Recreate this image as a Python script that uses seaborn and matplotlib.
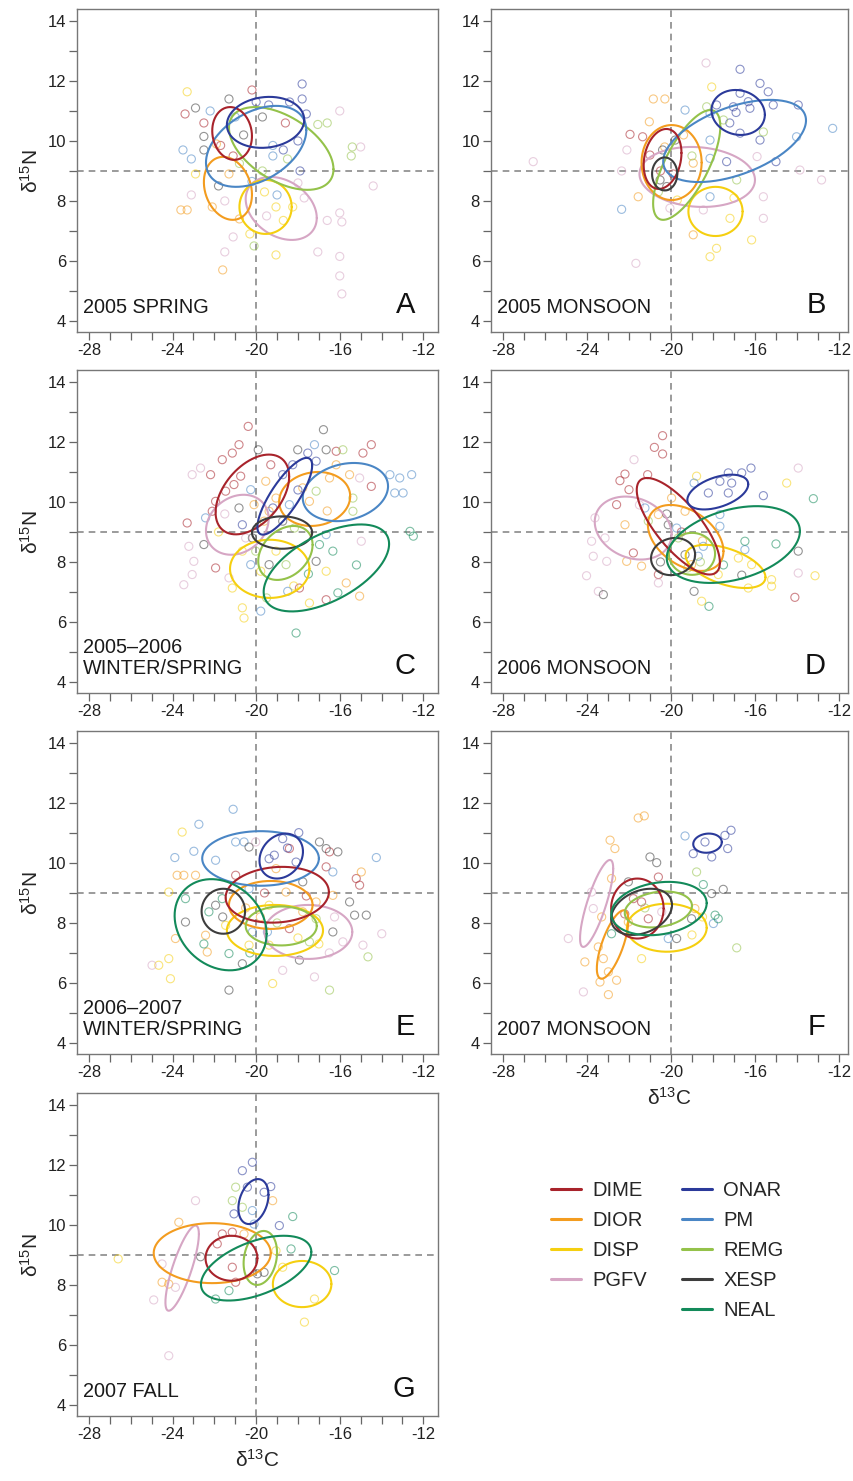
import numpy as np
import pandas as pd
import seaborn as sns
import matplotlib.pyplot as plt
from matplotlib.ticker import MultipleLocator
from matplotlib.lines import Line2D

species = ["DIME", "DIOR", "DISP", "PGFV", "ONAR", "PM", "REMG", "XESP", "NEAL"]
colors = ["#a8232b", "#f39c1f", "#f5cf10", "#d6a6c4", "#2b3a9a", "#4a86c5", "#94c24a", "#3d3d3d", "#138a5a"]
letters = ["A", "B", "C", "D", "E", "F", "G"]
titles = ["2005 SPRING", "2005 MONSOON", "2005\u20132006\nWINTER/SPRING", "2006 MONSOON",
          "2006\u20132007\nWINTER/SPRING", "2007 MONSOON", "2007 FALL"]

# individual samples (d13C, d15N) per species
pts_A = {
    "DIME": [(-23.4, 10.9), (-22.5, 10.6), (-21.7, 9.85), (-21.1, 9.5), (-20.2, 11.7), (-18.6, 10.6)],
    "DIOR": [(-23.6, 7.7), (-23.3, 7.7), (-22.1, 7.8), (-21.6, 5.7), (-21.9, 9.9), (-21.3, 8.9), (-20.8, 7.4)],
    "DISP": [(-23.3, 11.64), (-22.9, 8.9), (-20.3, 6.9), (-19.05, 6.2), (-19.05, 7.8), (-18.7, 7.35), (-18.25, 7.8), (-19.6, 8.3)],
    "PGFV": [(-23.1, 8.2), (-21.5, 8.0), (-21.1, 6.8), (-21.5, 6.3), (-19.5, 7.5), (-17.7, 8.1), (-17.05, 6.3), (-16.6, 7.35),
             (-16.0, 7.6), (-15.9, 7.3), (-16.0, 6.15), (-16.0, 5.5), (-15.9, 4.9), (-14.4, 8.5), (-15.0, 9.8), (-16.0, 11.0), (-18.0, 8.6)],
    "ONAR": [(-17.8, 11.9), (-17.8, 11.4), (-18.7, 9.7), (-18.0, 10.0), (-17.9, 9.0), (-19.4, 11.2), (-18.4, 11.3), (-17.6, 10.9), (-20.0, 11.3)],
    "PM": [(-22.2, 11.0), (-23.5, 9.7), (-23.1, 9.4), (-19.2, 9.5), (-19.2, 9.85), (-20.2, 8.65), (-21.0, 10.8), (-19.0, 8.2)],
    "REMG": [(-17.05, 10.55), (-16.6, 10.6), (-15.4, 9.8), (-15.45, 9.5), (-20.8, 9.25), (-19.7, 9.0), (-20.1, 6.5), (-18.5, 9.4)],
    "XESP": [(-22.9, 11.1), (-21.3, 11.4), (-22.5, 10.15), (-22.5, 9.7), (-19.7, 10.8), (-21.8, 8.5), (-20.6, 10.2)],
}
pts_B = {
    "DIME": [(-21.95, 10.22), (-21.35, 10.14), (-21.0, 9.53), (-20.5, 9.0), (-19.9, 8.9)],
    "DIOR": [(-21.56, 8.14), (-20.84, 11.4), (-20.29, 11.4), (-21.03, 10.64), (-19.4, 10.2), (-18.94, 9.26), (-18.94, 6.87), (-20.3, 9.8)],
    "DISP": [(-18.06, 11.8), (-17.19, 7.42), (-18.14, 6.14), (-16.16, 6.7), (-17.83, 6.42), (-19.7, 8.03), (-17.0, 8.1)],
    "PGFV": [(-26.56, 9.31), (-22.1, 9.7), (-22.35, 9.0), (-21.67, 5.92), (-15.9, 9.48), (-15.6, 8.14), (-15.6, 7.42),
             (-12.83, 8.7), (-13.86, 9.03), (-20.05, 7.76), (-18.46, 7.7), (-18.33, 12.6)],
    "ONAR": [(-17.35, 9.31), (-17.83, 11.2), (-17.03, 11.14), (-16.71, 12.39), (-16.71, 11.59), (-16.71, 10.26), (-16.32, 11.31),
             (-16.24, 11.09), (-15.76, 11.92), (-15.37, 11.64), (-15.13, 11.2), (-15.76, 10.03), (-15.0, 9.31), (-13.94, 11.2),
             (-17.2, 10.6), (-16.9, 10.95)],
    "PM": [(-22.35, 7.72), (-19.33, 11.03), (-18.14, 10.92), (-18.14, 10.03), (-18.14, 9.42), (-14.02, 10.14), (-12.3, 10.42), (-18.14, 8.14)],
    "REMG": [(-18.3, 11.14), (-17.5, 10.7), (-15.6, 10.3), (-16.87, 8.7), (-20.6, 8.3), (-19.0, 9.5)],
    "XESP": [(-20.4, 9.7), (-19.8, 10.03), (-20.52, 8.7), (-20.2, 8.48)],
}
pts_C = {
    "DIME": [(-20.38, 12.52), (-20.82, 11.91), (-21.14, 11.63), (-21.62, 11.41), (-22.18, 10.91), (-21.06, 10.58), (-20.74, 10.86),
             (-21.46, 10.36), (-21.94, 10.02), (-22.1, 9.69), (-23.3, 9.3), (-21.94, 7.8), (-16.17, 11.69), (-14.89, 11.63),
             (-14.49, 11.91), (-14.49, 10.52), (-16.65, 6.74), (-17.93, 7.13), (-19.3, 11.24)],
    "DIOR": [(-19.38, 9.69), (-19.05, 10.13), (-16.17, 11.24), (-16.49, 10.8), (-15.53, 10.91), (-17.45, 10.02), (-17.77, 10.47),
             (-15.69, 7.3), (-15.05, 6.86), (-19.62, 9.36), (-19.54, 10.69), (-20.1, 9.91), (-16.6, 9.7)],
    "DISP": [(-21.14, 7.13), (-20.66, 6.47), (-20.58, 6.13), (-16.65, 7.69), (-17.45, 6.63), (-19.05, 8.36), (-19.78, 7.69),
             (-20.66, 8.36), (-18.2, 7.2), (-21.8, 9.0)],
    "PGFV": [(-23.06, 10.91), (-22.66, 11.13), (-23.22, 8.52), (-22.98, 8.02), (-23.46, 7.24), (-23.06, 7.58), (-21.3, 7.47),
             (-14.97, 8.69), (-15.05, 10.8), (-21.5, 9.6), (-20.5, 8.8)],
    "ONAR": [(-20.66, 9.24), (-18.73, 10.91), (-17.53, 11.63), (-17.13, 11.36), (-18.25, 11.24), (-19.2, 9.8), (-18.0, 10.4)],
    "PM": [(-22.42, 9.47), (-19.78, 6.36), (-20.26, 10.41), (-17.21, 11.91), (-13.6, 10.91), (-13.13, 10.8), (-12.56, 10.91),
           (-13.37, 10.3), (-12.97, 10.3), (-16.65, 8.91), (-18.49, 7.02), (-20.26, 7.91), (-18.41, 9.91)],
    "REMG": [(-15.85, 11.74), (-15.37, 10.13), (-15.37, 9.69), (-17.13, 10.36), (-18.17, 9.13), (-18.57, 7.91), (-20.02, 8.36), (-19.5, 6.8)],
    "XESP": [(-22.5, 8.58), (-19.9, 11.74), (-20.82, 9.8), (-20.18, 8.8), (-18.01, 11.74), (-16.65, 11.74), (-17.13, 8.02),
             (-19.38, 7.91), (-18.73, 9.36), (-16.78, 12.41)],
    "NEAL": [(-12.64, 9.02), (-12.48, 8.86), (-16.97, 8.58), (-16.33, 8.36), (-16.09, 6.97), (-18.09, 5.63), (-17.5, 7.6), (-15.2, 7.9)],
}
pts_D = {
    "DIME": [(-20.4, 12.21), (-20.79, 11.82), (-20.4, 11.6), (-22.19, 10.93), (-22.43, 10.71), (-22.0, 10.41), (-21.11, 10.91),
             (-22.59, 9.91), (-21.79, 8.3), (-20.6, 7.58), (-14.1, 6.82), (-19.5, 9.0)],
    "DIOR": [(-22.11, 8.02), (-21.4, 7.86), (-19.02, 7.91), (-19.33, 9.69), (-19.97, 10.13), (-20.6, 9.58), (-22.19, 9.24), (-18.5, 8.7)],
    "DISP": [(-18.78, 10.86), (-14.49, 10.63), (-16.79, 8.13), (-16.16, 7.91), (-13.14, 7.54), (-15.21, 7.41), (-15.21, 7.19),
             (-16.32, 7.13), (-18.54, 6.69), (-17.75, 7.58)],
    "PGFV": [(-21.76, 11.41), (-23.62, 9.47), (-23.14, 8.8), (-23.78, 8.69), (-23.7, 8.19), (-24.02, 7.54), (-23.06, 8.02),
             (-23.46, 7.02), (-20.6, 7.3), (-13.94, 11.13), (-13.94, 7.63), (-21.5, 9.9)],
    "ONAR": [(-18.22, 10.3), (-17.67, 10.69), (-17.27, 10.97), (-17.11, 10.63), (-17.27, 10.3), (-16.63, 10.97), (-16.19, 11.13), (-15.6, 10.21)],
    "PM": [(-21.24, 9.8), (-19.73, 9.13), (-18.9, 10.63), (-17.67, 9.58), (-17.67, 9.19), (-16.48, 8.41), (-18.46, 8.52), (-18.7, 8.19)],
    "REMG": [(-19.65, 8.8), (-21.08, 9.36), (-18.6, 8.0), (-19.2, 7.8)],
    "XESP": [(-23.22, 6.91), (-20.21, 9.6), (-20.13, 9.24), (-16.63, 7.56), (-13.94, 8.36), (-18.9, 7.02), (-19.33, 8.24), (-20.5, 8.0)],
    "NEAL": [(-13.22, 10.11), (-16.48, 8.69), (-18.19, 6.52), (-15.0, 8.6), (-17.5, 7.9)],
}
pts_E = {
    "DIME": [(-18.41, 10.48), (-16.49, 10.37), (-16.65, 9.87), (-15.21, 9.48), (-15.05, 9.26), (-18.41, 7.81), (-20.98, 9.59),
             (-17.6, 8.9), (-19.6, 9.0)],
    "DIOR": [(-14.97, 9.7), (-22.34, 7.03), (-23.86, 7.48), (-23.78, 9.59), (-23.46, 9.59), (-22.9, 9.59), (-22.42, 7.59),
             (-17.77, 8.37), (-17.13, 8.7), (-16.33, 8.92), (-18.57, 9.03), (-19.05, 9.81), (-20.5, 8.5), (-19.8, 8.2)],
    "DISP": [(-23.54, 11.03), (-19.21, 5.98), (-24.18, 6.81), (-24.66, 6.59), (-24.1, 6.14), (-24.18, 9.03), (-19.38, 8.59),
             (-19.38, 7.26), (-20.34, 7.26), (-21.46, 7.92), (-18.0, 7.5), (-17.0, 7.3)],
    "PGFV": [(-20.02, 10.7), (-16.25, 8.2), (-15.85, 7.37), (-14.89, 7.26), (-13.99, 7.64), (-17.21, 6.2), (-18.73, 6.42),
             (-24.98, 6.59), (-16.5, 7.0)],
    "ONAR": [(-17.96, 11.01), (-18.73, 10.81), (-19.38, 10.14), (-19.13, 10.26), (-18.09, 10.03), (-18.5, 10.5)],
    "PM": [(-21.1, 11.79), (-22.74, 11.29), (-22.98, 10.39), (-23.89, 10.18), (-21.94, 10.09), (-20.98, 10.7), (-20.58, 10.7),
           (-16.33, 9.7), (-14.25, 10.18), (-20.18, 7.7), (-19.46, 7.7), (-20.34, 9.14)],
    "REMG": [(-14.65, 6.87), (-16.49, 5.76), (-17.13, 8.14), (-17.45, 7.37), (-19.0, 8.0)],
    "XESP": [(-20.34, 10.53), (-16.97, 10.7), (-16.65, 10.48), (-16.09, 10.37), (-15.53, 8.7), (-15.29, 8.26), (-14.73, 8.26),
             (-16.33, 7.7), (-17.93, 6.76), (-21.3, 5.76), (-20.66, 6.64), (-23.38, 8.03), (-21.94, 8.59), (-17.77, 9.37), (-21.6, 8.2)],
    "NEAL": [(-21.3, 6.98), (-23.38, 8.81), (-22.26, 8.37), (-21.62, 8.81), (-22.5, 7.3), (-20.3, 7.0)],
}
pts_F = {
    "DIME": [(-20.6, 9.53), (-21.4, 8.7), (-21.08, 8.14), (-21.79, 8.81), (-22.2, 8.3)],
    "DIOR": [(-21.56, 11.5), (-21.27, 11.57), (-22.9, 10.76), (-22.67, 10.48), (-22.83, 9.48), (-23.3, 8.2), (-23.46, 7.2),
             (-23.22, 6.81), (-22.98, 6.37), (-22.59, 6.09), (-23.38, 6.03), (-22.98, 5.61), (-24.1, 6.7), (-22.03, 8.03), (-18.86, 8.48)],
    "DISP": [(-21.4, 6.81), (-19.0, 7.6), (-18.5, 8.2)],
    "PGFV": [(-24.17, 5.7), (-24.89, 7.48), (-23.78, 9.03), (-23.7, 8.48), (-20.44, 8.37)],
    "ONAR": [(-18.94, 10.31), (-18.06, 10.2), (-17.43, 10.92), (-17.14, 11.09), (-17.3, 10.48), (-18.38, 10.7)],
    "PM": [(-19.33, 10.9), (-17.98, 7.98), (-20.13, 7.48)],
    "REMG": [(-18.78, 9.7), (-16.87, 7.17), (-21.24, 8.5)],
    "XESP": [(-21.0, 10.2), (-20.68, 10.01), (-17.51, 9.12), (-18.06, 8.98), (-19.02, 8.14), (-19.73, 7.48), (-22.03, 9.37)],
    "NEAL": [(-18.46, 9.28), (-17.9, 8.26), (-17.75, 8.14), (-22.83, 7.64)],
}
pts_G = {
    "DIME": [(-21.62, 9.7), (-21.14, 9.76), (-21.86, 9.37), (-21.14, 8.59), (-20.98, 8.09)],
    "DIOR": [(-19.21, 10.81), (-23.7, 10.09), (-20.58, 9.7), (-24.18, 8.03), (-24.5, 8.09)],
    "DISP": [(-26.6, 8.87), (-18.73, 8.59), (-17.21, 7.53), (-17.69, 6.76), (-19.05, 9.14)],
    "PGFV": [(-22.9, 10.81), (-24.5, 8.7), (-24.9, 7.5), (-23.86, 7.92), (-24.18, 5.64)],
    "ONAR": [(-20.18, 12.09), (-20.66, 11.81), (-19.3, 11.28), (-19.62, 11.09), (-20.42, 11.26), (-21.06, 10.37), (-18.89, 9.98)],
    "PM": [(-20.18, 10.48), (-20.1, 10.03)],
    "REMG": [(-20.98, 11.26), (-21.14, 10.81), (-20.66, 10.59)],
    "XESP": [(-22.66, 8.94), (-19.94, 8.37), (-19.62, 8.42)],
    "NEAL": [(-18.25, 10.28), (-21.3, 7.81), (-21.94, 7.53), (-18.33, 9.2), (-16.25, 8.48)],
}

# standard ellipses: (mean d13C, mean d15N, sd d13C, sd d15N, correlation)
ell_A = {"DIME": (-21.15, 10.25, 0.95, 0.88, -0.1), "DIOR": (-21.35, 8.42, 1.15, 1.05, -0.2),
         "DISP": (-19.55, 7.8, 1.25, 0.9, 0.0), "PGFV": (-18.8, 7.75, 1.7, 1.05, -0.3),
         "ONAR": (-19.55, 10.62, 1.85, 0.85, 0.1), "PM": (-20.0, 9.82, 2.4, 1.35, 0.4),
         "REMG": (-18.8, 9.75, 2.5, 1.38, -0.5)}
ell_B = {"DIME": (-20.4, 9.4, 0.9, 1.0, 0.2), "DIOR": (-19.97, 9.28, 1.43, 1.25, 0.0),
         "DISP": (-17.88, 7.65, 1.29, 0.82, 0.0), "PGFV": (-18.75, 8.8, 2.75, 1.0, -0.1),
         "ONAR": (-16.8, 10.95, 1.27, 0.75, -0.1), "PM": (-16.97, 10.0, 3.4, 1.37, 0.5),
         "REMG": (-19.25, 9.2, 1.6, 1.83, 0.7), "XESP": (-20.3, 8.9, 0.6, 0.55, 0.0)}
ell_C = {"DIME": (-20.18, 10.25, 1.76, 1.33, 0.45), "DIOR": (-17.2, 10.1, 1.7, 0.9, 0.1),
         "DISP": (-19.35, 7.77, 1.9, 0.97, 0.0), "PGFV": (-20.9, 9.24, 1.5, 1.0, 0.2),
         "ONAR": (-18.63, 10.19, 1.31, 1.28, 0.8), "PM": (-15.73, 10.33, 2.04, 0.97, 0.2),
         "REMG": (-18.6, 8.3, 1.3, 0.9, 0.3), "XESP": (-18.76, 8.98, 1.44, 0.54, 0.0),
         "NEAL": (-16.64, 7.8, 3.0, 1.45, 0.55)}
ell_D = {"DIME": (-19.65, 9.19, 1.98, 1.61, -0.75), "DIOR": (-19.3, 8.8, 1.8, 1.1, -0.4),
         "DISP": (-17.4, 7.85, 1.9, 0.72, -0.5), "PGFV": (-21.8, 9.13, 1.83, 1.05, -0.2),
         "ONAR": (-17.77, 10.33, 1.45, 0.58, 0.45), "REMG": (-19.0, 8.27, 1.1, 0.7, 0.0),
         "XESP": (-19.9, 8.18, 1.05, 0.62, 0.1), "NEAL": (-17.03, 8.58, 3.17, 1.28, 0.35)}
ell_E = {"DIME": (-18.99, 8.94, 2.47, 0.93, 0.1), "DIOR": (-19.3, 8.6, 2.0, 0.8, 0.0),
         "DISP": (-19.1, 7.75, 2.3, 0.85, 0.0), "PGFV": (-17.5, 7.7, 2.1, 0.9, 0.0),
         "ONAR": (-18.8, 10.23, 1.04, 0.75, 0.2), "PM": (-19.79, 10.15, 2.79, 0.91, 0.0),
         "REMG": (-18.8, 7.9, 1.7, 0.65, 0.0), "XESP": (-21.57, 8.39, 1.04, 0.75, 0.0),
         "NEAL": (-21.7, 7.94, 2.2, 1.52, -0.2)}
ell_F = {"DIME": (-21.6, 8.48, 1.25, 1.0, 0.0), "DIOR": (-22.78, 7.28, 0.75, 1.14, 0.7),
         "DISP": (-20.2, 7.84, 1.9, 0.8, 0.0), "PGFV": (-23.54, 8.65, 0.79, 1.45, 0.8),
         "ONAR": (-18.26, 10.66, 0.68, 0.32, 0.1), "REMG": (-20.6, 8.45, 1.6, 0.6, 0.2),
         "XESP": (-21.4, 8.37, 1.45, 0.77, 0.3), "NEAL": (-20.57, 8.48, 2.27, 0.89, 0.2)}
ell_G = {"DIME": (-21.18, 8.89, 1.24, 0.75, 0.0), "DIOR": (-22.1, 9.06, 2.8, 1.0, 0.0),
         "DISP": (-17.8, 8.03, 1.4, 0.77, 0.0), "PGFV": (-23.54, 8.56, 0.8, 1.42, 0.8),
         "ONAR": (-20.13, 10.78, 0.72, 0.75, 0.3), "REMG": (-19.8, 8.9, 0.8, 0.9, 0.2),
         "NEAL": (-20.0, 8.56, 2.64, 1.08, 0.5)}

points = [pts_A, pts_B, pts_C, pts_D, pts_E, pts_F, pts_G]
ellipses = [ell_A, ell_B, ell_C, ell_D, ell_E, ell_F, ell_G]

sns.set_style("white")
plt.rcParams["font.family"] = ["Liberation Sans", "DejaVu Sans"]
plt.rcParams["mathtext.fontset"] = "custom"
plt.rcParams["mathtext.rm"] = "Liberation Sans"
plt.rcParams["mathtext.it"] = "Liberation Sans:italic"
plt.rcParams["axes.unicode_minus"] = False

palette = dict(zip(species, colors))
draw_order = ["PGFV", "DISP", "DIOR", "REMG", "PM", "DIME", "ONAR", "XESP", "NEAL"]

W, H = 854, 1481
fig = plt.figure(figsize=(W / 100, H / 100), dpi=100)
col_left = [(77, 361), (491, 357)]
row_top = [9, 370, 731, 1093]
ph = 323
t = np.linspace(0, 2 * np.pi, 240)

for i in range(7):
    r, c = divmod(i, 2)
    x0, w = col_left[c]
    ax = fig.add_axes([x0 / W, 1 - (row_top[r] + ph) / H, w / W, ph / H])

    rows = [(sp, x, y) for sp in species if sp in points[i] for (x, y) in points[i][sp]]
    df = pd.DataFrame(rows, columns=["species", "d13C", "d15N"])
    sns.scatterplot(data=df, x="d13C", y="d15N", hue="species", palette=palette,
                    s=34, linewidth=0.8, legend=False, ax=ax, zorder=2)
    coll = ax.collections[-1]
    fc = coll.get_facecolors().copy()
    fc[:, 3] = 0.55
    coll.set_edgecolors(fc)
    coll.set_facecolors("none")

    ax.axvline(-20, color="#8a8a8a", ls=(0, (4, 3)), lw=1.2, zorder=1)
    ax.axhline(9, color="#8a8a8a", ls=(0, (4, 3)), lw=1.2, zorder=1)

    for sp in draw_order:
        if sp not in ellipses[i]:
            continue
        cx, cy, sx, sy, rho = ellipses[i][sp]
        ex = cx + sx * np.cos(t)
        ey = cy + sy * (rho * np.cos(t) + np.sqrt(1 - rho ** 2) * np.sin(t))
        ax.plot(ex, ey, color=palette[sp], lw=1.5, zorder=3)

    ax.set_xlim(-28.57, -11.3 if c == 0 else -11.57)
    ax.set_ylim(3.63, 14.4)
    ax.set_xticks([-28, -24, -20, -16, -12])
    ax.set_yticks([4, 6, 8, 10, 12, 14])
    ax.xaxis.set_minor_locator(MultipleLocator(1))
    ax.yaxis.set_minor_locator(MultipleLocator(1))
    ax.tick_params(which="both", direction="out", length=6, width=0.9, color="#666666",
                   labelsize=12, labelcolor="#222222", pad=2,
                   bottom=True, left=True)
    for sp_ in ax.spines.values():
        sp_.set_color("#777777")
        sp_.set_linewidth(1.0)

    ax.set_xlabel("")
    ax.set_ylabel("")
    if c == 0:
        ax.set_ylabel("δ$^{15}$N", fontsize=15, labelpad=4)
    if i in (5, 6):
        ax.set_xlabel("δ$^{13}$C", fontsize=15, labelpad=5)

    ax.text(0.017, 0.045, titles[i], transform=ax.transAxes, ha="left", va="bottom",
            fontsize=14.3, color="#1a1a1a", linespacing=1.15)
    ax.text(0.937, 0.04, letters[i], transform=ax.transAxes, ha="right", va="bottom",
            fontsize=21, color="#111111")

handles = []
labels = []
for sp in ["DIME", "DIOR", "DISP", "PGFV"]:
    handles.append(Line2D([], [], color=palette[sp], lw=2.2))
    labels.append(sp)
handles.append(Line2D([], [], color="none"))
labels.append("")
for sp in ["ONAR", "PM", "REMG", "XESP", "NEAL"]:
    handles.append(Line2D([], [], color=palette[sp], lw=2.2))
    labels.append(sp)

fig.legend(handles, labels, ncol=2, frameon=False, loc="upper left",
           bbox_to_anchor=(551 / W, 1 - 1181 / H), fontsize=14.5,
           handlelength=1.5, handletextpad=0.55, columnspacing=1.75,
           labelspacing=0.55, borderpad=0, borderaxespad=0)

fig.savefig("out.png", dpi=100)
